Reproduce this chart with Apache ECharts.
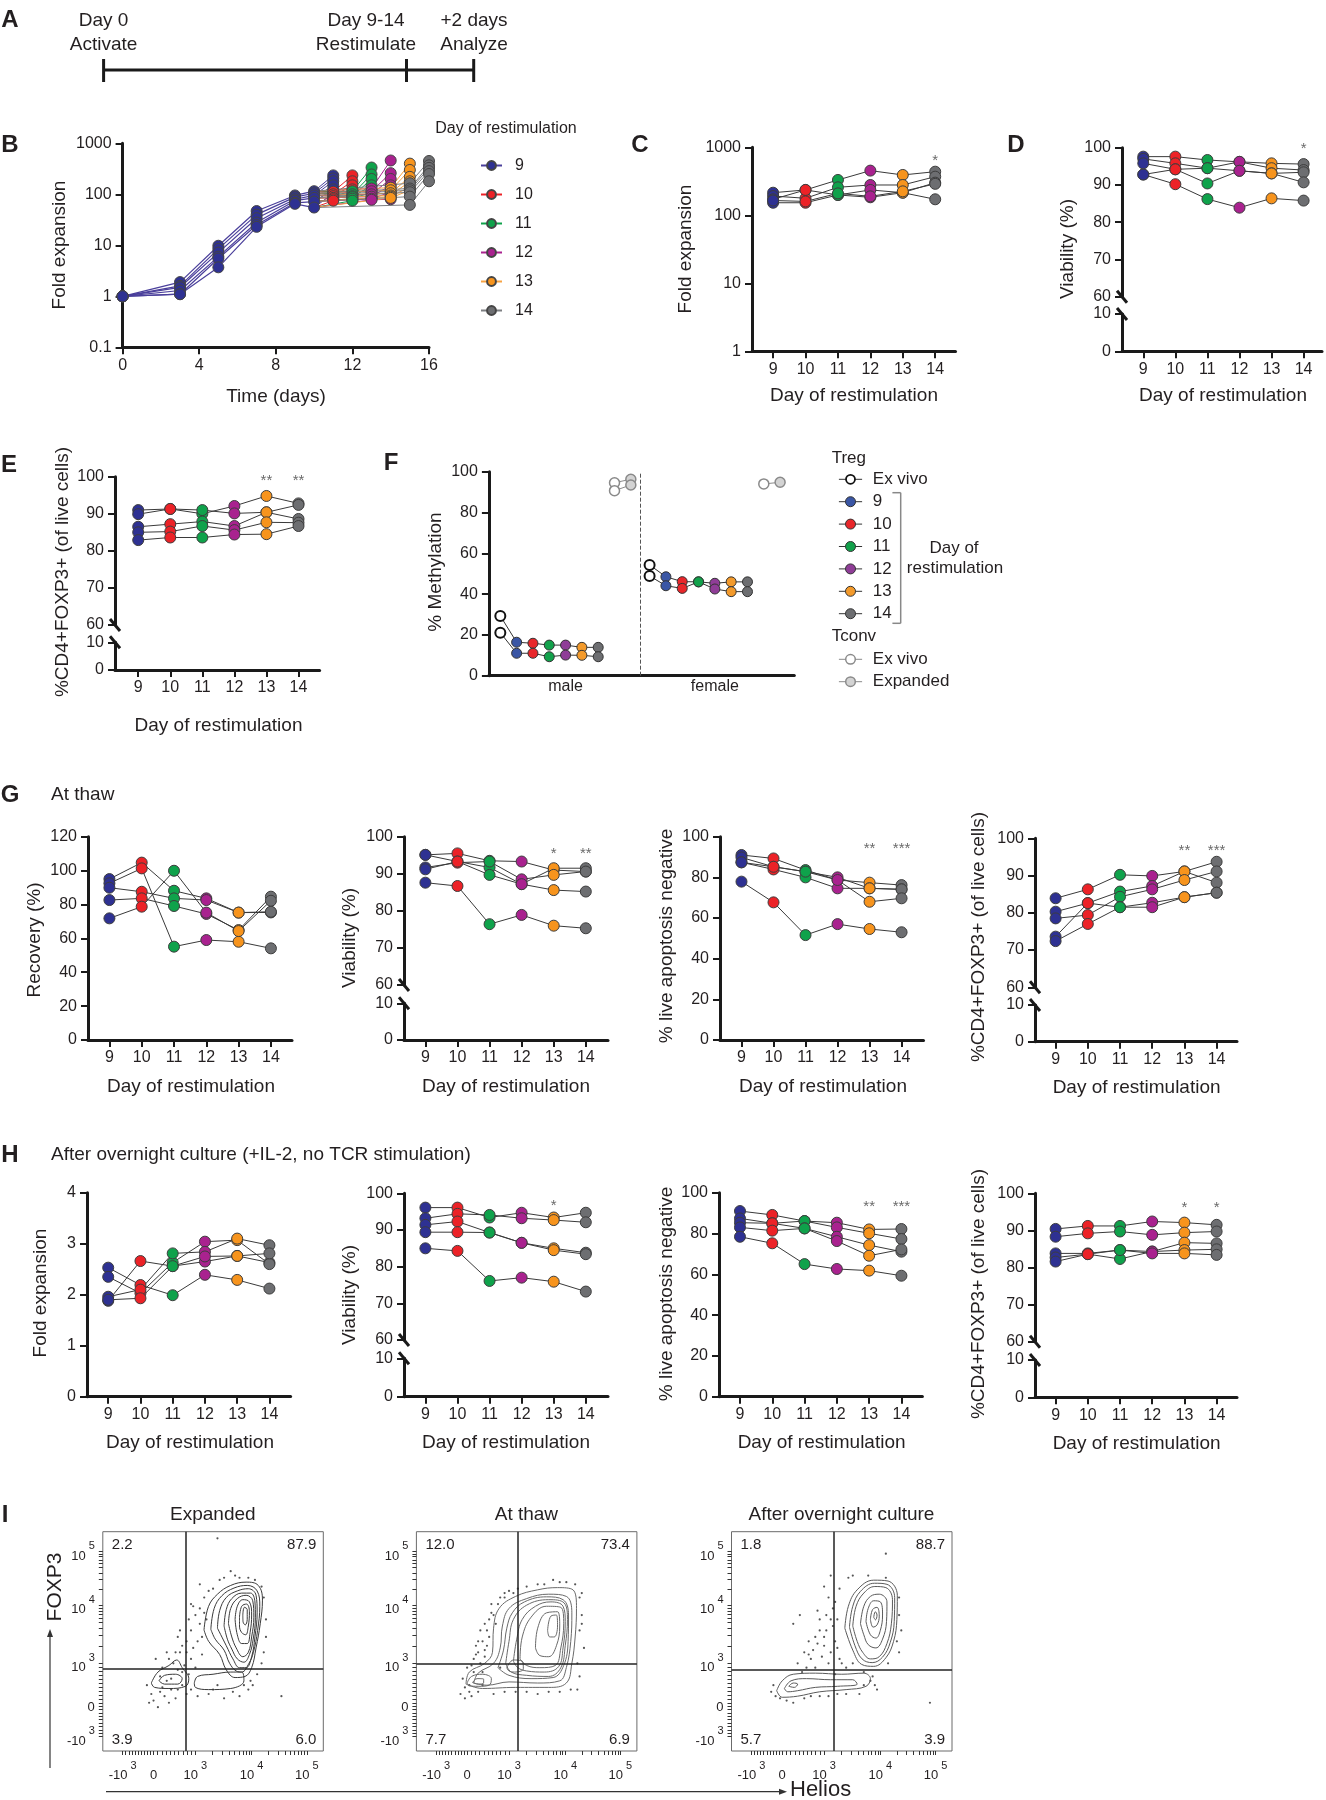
<!DOCTYPE html>
<html><head><meta charset="utf-8">
<script src="https://cdn.jsdelivr.net/npm/echarts@6/dist/echarts.min.js"></script>
<style>html,body{margin:0;padding:0;background:#fff}#c{width:1326px;height:1800px}</style>
</head><body><div id="c"></div>
<script>
// ================= DATA =================
const DAYS = [9, 10, 11, 12, 13, 14];
const DAY_COLORS = ['#2E3192', '#EC2227', '#0FA24B', '#A9228F', '#F7941D', '#6D6E71'];
const F_COLORS = ['#3A56A5', '#E8262A', '#12A14B', '#8F3D97', '#F39A2B', '#6D6E71'];

// Panel B: fold expansion over time
const B_baseDays = [0, 3, 5, 7, 9, 10];
const B_base = [
  [1, 1.9, 9.8, 47, 95, 115],
  [1, 1.6, 8.5, 40, 88, 105],
  [1, 1.5, 7.2, 34, 80, 95],
  [1, 1.3, 6.0, 28, 75, 85],
  [1, 1.1, 5.5, 25, 68, 72],
  [1, 1.1, 3.7, 23, 65, 55]];
const B_restimDays = [9, 10, 11, 12, 13, 14];
const B_afterDays = [[11], [11, 12], [12, 13], [13, 14], [14, 15], [15, 16]];
const B_after = [
  [[235], [205], [180], [150], [125], [105]],
  [[112, 235], [100, 180], [92, 150], [85, 125], [80, 100], [75, 80]],
  [[115, 335], [100, 245], [92, 200], [88, 150], [82, 110], [75, 85]],
  [[130, 460], [115, 260], [100, 200], [90, 150], [82, 110], [78, 80]],
  [[135, 400], [120, 300], [105, 220], [95, 180], [90, 140], [85, 120]],
  [[165, 450], [130, 370], [120, 330], [110, 285], [90, 250], [62, 180]]];
const B_lineColors = ['#4A3F9B', '#EC2227', '#0FA24B', '#A9228F', '#F7A343', '#7D7F82'];

// Panels C-E (rows = donors, columns = day of restimulation 9..14)
const C_fold = [
  [215, 236, 331, 454, 392, 438],
  [192, 178, 258, 279, 279, 370],
  [172, 236, 199, 236, 215, 302],
  [153, 153, 199, 184, 215, 172],
  [165, 160, 210, 190, 225, 290]];
const C_sig = [[14, '*']];
const D_viab = [
  [97.6, 97.6, 96.7, 96.2, 95.8, 95.6],
  [97.0, 95.8, 94.5, 96.2, 94.5, 94.0],
  [95.8, 94.2, 94.5, 93.8, 93.1, 93.4],
  [92.8, 94.2, 90.4, 93.8, 93.1, 90.7],
  [92.8, 90.2, 86.2, 83.9, 86.4, 85.8]];
const D_sig = [[14, '*']];
const E_foxp3 = [
  [91.0, 91.3, 90.0, 92.1, 94.8, 92.8],
  [89.9, 91.3, 91.0, 90.1, 90.4, 92.4],
  [86.5, 87.2, 87.9, 86.7, 90.4, 88.6],
  [85.0, 85.2, 86.7, 85.6, 87.7, 87.6],
  [82.9, 83.6, 83.6, 84.4, 84.5, 86.7]];
const E_sig = [[13, '**'], [14, '**']];

// Panel F: % methylation
const F_sexes = ['male', 'female'];
const F_tregMale = [[29.3, 16.4, 15.9, 15.0, 15.0, 13.9, 13.9], [21.1, 11.0, 11.0, 9.3, 10.1, 10.0, 9.3]];
const F_tregFemale = [[54.3, 48.5, 46.1, 46.0, 45.3, 46.0, 46.0], [48.9, 44.1, 42.8, 46.0, 42.5, 41.2, 41.2]];
const F_tconvMale = [[94.6, 96.3], [90.7, 93.5]];
const F_tconvFemale = [[94.0, 94.8]];
const F_tregLegend = ['Ex vivo', '9', '10', '11', '12', '13', '14'];
const F_tconvLegend = ['Ex vivo', 'Expanded'];

// Panel G: at thaw
const G_recovery = [
  [95.0, 104.7, 88.1, 83.6, 75.2, 75.3],
  [92.5, 101.3, 55.1, 59.0, 58.0, 54.1],
  [89.9, 87.5, 83.6, 82.6, 75.2, 75.7],
  [82.6, 83.6, 79.1, 74.4, 64.9, 84.6],
  [71.8, 78.7, 99.9, 75.2, 64.3, 82.2]];
const G_viab = [
  [95.1, 95.5, 93.5, 93.3, 91.0, 90.6],
  [95.1, 93.3, 91.7, 87.2, 91.5, 91.5],
  [91.7, 93.0, 93.3, 88.5, 89.7, 90.6],
  [91.2, 93.3, 89.7, 87.2, 85.6, 85.2],
  [87.6, 86.7, 76.4, 78.9, 76.0, 75.3]];
const G_viab_sig = [[13, '*'], [14, '**']];
const G_apop = [
  [91.0, 89.3, 83.6, 78.7, 77.4, 76.2],
  [89.8, 85.2, 82.8, 80.0, 74.6, 74.1],
  [87.4, 83.9, 80.0, 74.6, 74.6, 74.1],
  [87.4, 85.2, 82.8, 78.7, 68.0, 69.7],
  [77.9, 67.7, 51.6, 57.0, 54.6, 53.0]];
const G_apop_sig = [[13, '**'], [14, '***']];
const G_foxp3 = [
  [83.9, 86.3, 90.2, 89.9, 91.1, 88.1],
  [80.3, 82.6, 85.7, 87.2, 91.1, 93.7],
  [78.5, 79.4, 84.3, 86.3, 88.8, 91.1],
  [73.6, 82.6, 81.5, 82.7, 84.2, 85.4],
  [72.4, 77.0, 81.5, 81.5, 84.2, 85.4]];
const G_foxp3_sig = [[13, '**'], [14, '***']];

// Panel H: after overnight culture
const H_fold = [
  [1.88, 2.66, 2.56, 2.65, 2.76, 2.63],
  [2.53, 2.19, 1.99, 2.39, 2.29, 2.12],
  [2.35, 2.03, 2.63, 3.04, 3.07, 2.60],
  [1.96, 2.10, 2.81, 2.84, 3.10, 2.97],
  [1.90, 1.93, 2.56, 2.75, 2.76, 2.81]];
const H_viab = [
  [96.1, 96.1, 93.4, 94.7, 93.4, 94.7],
  [93.2, 94.4, 94.1, 93.2, 92.7, 92.1],
  [91.4, 92.3, 89.3, 86.5, 85.0, 83.8],
  [89.4, 89.4, 89.3, 86.5, 84.5, 83.4],
  [85.0, 84.3, 76.1, 77.0, 75.9, 73.2]];
const H_viab_sig = [[13, '*']];
const H_apop = [
  [91.0, 89.1, 86.1, 85.3, 82.0, 82.2],
  [87.4, 85.0, 86.1, 83.0, 80.1, 77.3],
  [85.3, 85.0, 82.5, 78.4, 74.3, 71.1],
  [83.0, 81.4, 82.5, 76.3, 69.1, 72.2],
  [78.4, 75.2, 65.0, 62.6, 61.8, 59.3]];
const H_apop_sig = [[13, '**'], [14, '***']];
const H_foxp3 = [
  [90.4, 91.2, 91.2, 92.4, 92.1, 91.5],
  [88.3, 89.2, 89.7, 88.8, 89.4, 89.7],
  [83.8, 83.8, 84.7, 84.3, 86.7, 86.5],
  [82.7, 83.6, 82.3, 84.3, 84.7, 84.9],
  [81.6, 83.6, 84.7, 83.8, 83.8, 83.4]];
const H_foxp3_sig = [[13, '*'], [14, '*']];

// Panel I: flow cytometry (channel units 0-100 on both axes)
const I_titles = ['Expanded', 'At thaw', 'After overnight culture'];
const I_quadrants = [['2.2', '87.9', '3.9', '6.0'], ['12.0', '73.4', '7.7', '6.9'], ['1.8', '88.7', '5.7', '3.9']];
const I_gates = [[37.6, 37.3], [46.1, 39.7], [46.2, 36.9]];
const I_xTickPos = [9, 23, 42, 67.5, 92.5];
const I_yTickPos = [6.5, 22, 40, 66.5, 91];
const I_tickLabels = ['-10|3', '0', '10|3', '10|4', '10|5'];
const I1_rings = [
  [[45.9,55.2],[47.9,65.8],[52,71.5],[58,75.5],[65,77],[70.5,75.5],[72.4,68.8],[71.4,58],[69.5,47],[67.5,38],[64.5,34],[60,33.5],[56,37],[53,44],[48,50]],
  [[49,55.5],[50.5,65],[54,70.8],[59.5,74.3],[65.5,75.5],[70,73],[71.2,66],[70.2,55],[68.3,45],[66.3,40],[63,36],[60.5,36.5],[57.5,40],[55,46],[51,51]],
  [[52,56],[53,64],[56,70],[61,73],[66,74],[69.5,71],[70,63],[69,52],[67.5,43],[65,38],[62,38],[59,42],[56,48]],
  [[55,57],[56,64.5],[58.5,69.5],[63,72],[67,72],[69,68],[69.2,61],[68.2,51],[66.5,44],[64,40.5],[61,42],[58.5,46.5],[56.5,51]],
  [[57,58],[58,65],[61,69.5],[65,71],[68,68.5],[68.5,61],[67.5,52],[66,45],[63.5,43],[60.5,47],[58.5,52]],
  [[60,60],[61,66],[63.5,69],[66.5,68],[67.5,62],[66.8,54],[65.5,49],[63,49],[61,53]],
  [[62,61],[63,66],[65.2,67],[66.5,63.5],[66,57],[64.8,53],[63,54],[62,57]],
  [[63.5,62],[64.2,65.5],[65.5,64.5],[65.5,60],[64.6,57.5],[63.6,59]],
  [[22,31],[25,36],[30,39],[33.5,41.5],[36,38],[39,33],[37.5,29.5],[30,28.5],[23.5,29]],
  [[25.5,32],[28,34.5],[33,35],[36,33],[34,30.5],[28,30.5]],
  [[41.5,31],[43,34],[50,35],[58,36],[63,36],[64,32],[58,28.5],[48,28],[42,29]]];
const I2_rings = [
  [[22.5,30.5],[24,36],[31,40],[34.5,45],[35,56],[37.5,65],[45,70.5],[55,73.5],[64,74.5],[71,73.5],[72.6,65],[72,52],[70.5,40],[68,31],[60,29],[45,29],[30,28.5]],
  [[26,31],[28,35.5],[35,40],[38,47],[39,57],[42,65],[50,69.5],[60,71.5],[68,70.5],[70.5,63],[70,50],[68,38],[65,32],[55,31],[42,31.5],[32,30]],
  [[37,38],[39.5,46],[41,56],[43.5,63],[49,68],[59,70.3],[66.5,69],[69,62],[68.8,50],[66.8,39],[62,33.5],[52,33],[42,34.5]],
  [[40.5,40],[42,50],[44,60],[50,66.5],[60,69],[67,67.5],[68.5,60],[67.5,48],[65.5,38],[60,34],[50,34.5],[43,36]],
  [[44,41],[45.5,51],[48,60],[54,66],[61,68],[66.5,66],[67.5,59],[66.5,47],[64.5,38.5],[58,36],[50,36.5],[46,38]],
  [[47,42],[48,52],[52,61],[59,66],[65.5,65.5],[66.8,58],[65.5,47],[63,39],[56,38],[50,39]],
  [[54,47],[55,56],[59,63],[64,63.5],[65,57],[63.5,48],[60,43],[56,43.5]],
  [[59.5,55],[61,61.5],[63.5,62],[64,57],[62.5,52],[60.5,52]],
  [[23,31],[25,34],[30,35],[34,33],[33,30],[28,29.5],[24,29.8]],
  [[25.5,31.2],[27.5,33],[30.5,32.8],[30.5,31],[28,30.5]],
  [[41,38],[44,41.5],[48,41],[48.5,37.5],[44.5,36],[42,36.5]]];
const I3_rings = [
  [[51.4,56],[53,66],[57,73.5],[64.5,77.9],[71,77.5],[75.2,71],[75,60],[73.5,50],[70,42.5],[64.5,38.6],[59,39.5],[55,46]],
  [[53.5,56.5],[55,66],[58.5,72.8],[64.8,76.5],[70.5,76],[74,70],[73.8,59],[72,49.5],[68.5,42.8],[63.8,40.3],[59.2,42],[56,48]],
  [[55,57],[56.5,66],[60,72],[65,75],[70,74.5],[73,69],[72.5,58],[70.5,49],[67,43],[63,42],[59.5,45],[57,50]],
  [[58.5,58],[60,66],[63,70.5],[67,71.5],[70.5,68],[70.3,59],[68.5,51],[65.5,47],[62,48.5],[60,53]],
  [[61,59],[62,65],[64.5,68.5],[67.5,68],[68.5,62],[67.5,55],[65.5,51.5],[63,53]],
  [[63,60],[64,64.5],[66,65.5],[67,61.5],[66,57.5],[64.2,56.5]],
  [[64.5,61],[65.2,63.5],[66,62],[65.3,59.8]],
  [[20.5,27.5],[23,32],[28,35],[38,35.5],[50,35],[60,35.5],[63,33],[61,29.5],[52,28],[40,27],[30,25],[23,24.5]],
  [[24,28.5],[27,32],[34,33],[45,32.5],[55,32.5],[57,30.5],[48,29.5],[38,29],[30,27.5],[25.5,27]],
  [[26,29.5],[28,31],[30,30.5],[28.5,29]]];
const I1_dots = [[25,20],[28,25],[22,26],[30,22],[33,24],[35,45],[38,50],[40,55],[36,48],[41,47],[44,58],[42,62],[46,70],[48,73],[50,74],[38,45],[32,40],[30,42],[27,38],[45,52],[55,79],[60,80],[66,79],[72,75],[74,60],[73,45],[70,35],[66,28],[62,25],[55,24],[48,26],[43,25],[38,26],[26,34],[20,30],[24,42],[34,52],[39,60],[44,65],[58,82],[52,30],[64,30],[36,30],[31,28],[67,32],[29,45],[42,38],[40,42],[37,39],[34,37],[81,25],[52,97],[23,23],[27,29],[33,45],[35,55],[41,66],[47,60],[39,35],[45,44],[21,22],[26,27],[31,33],[36,36],[43,50],[46,63],[40,67],[44,76],[53,78],[62,79],[69,78],[73,70],[74,52],[72,40],[68,30],[59,27],[50,28],[40,28],[34,28],[29,32]];
const I2_dots = [[20,26],[22,24],[25,25],[21,33],[23,38],[26,42],[28,45],[30,50],[32,55],[33,60],[29,40],[31,46],[27,48],[34,63],[37,67],[40,70],[46,74],[55,76],[65,77],[72,76],[74,70],[74,55],[73,40],[70,28],[65,27],[55,26],[45,27],[35,26],[28,27],[24,30],[30,36],[33,52],[36,58],[26,36],[31,43],[24,27],[40,72],[62,78],[73,28],[38,38],[29,55],[32,48],[27,44],[35,62],[75,62],[76,47],[42,73],[50,75],[22,29],[25,39],[28,50],[31,58],[34,67],[38,70],[44,72],[58,76],[68,77],[75,72],[75,58],[74,34],[60,27],[50,27],[40,27],[30,30]];
const I3_dots = [[30,40],[33,45],[35,50],[38,52],[40,55],[42,48],[45,45],[47,50],[48,60],[46,65],[44,70],[42,75],[49,42],[36,42],[32,36],[38,38],[44,40],[50,40],[52,38],[55,40],[60,36],[63,32],[65,30],[66,28],[58,26],[48,26],[40,25],[33,24],[25,23],[22,24],[18,27],[45,80],[53,79],[76,70],[77,55],[76,45],[40,60],[43,55],[47,35],[31,62],[28,58],[90,22],[70,90],[37,46],[41,43],[46,57],[34,38],[39,64],[43,62],[48,47],[35,44],[39,49],[42,52],[45,60],[47,68],[49,74],[55,80],[62,80],[70,79],[76,62],[75,50],[71,40],[64,34],[60,30],[52,26],[44,25],[36,25],[28,22],[20,25],[19,30]];

// ================= BUILD =================
const FONT = "'Liberation Sans', Arial, Helvetica, sans-serif";
const INK = '#231f20';
const AXC = '#1a1a1a';
const GR = [];
const option = { animation: false, backgroundColor: '#fff', textStyle: { fontFamily: FONT },
  grid: [], xAxis: [], yAxis: [], series: [], graphic: { elements: GR } };

const AXL = { show: true, onZero: false, lineStyle: { color: AXC, width: 3 } };
const TK = { show: true, inside: false, length: 7, lineStyle: { color: AXC, width: 2 } };
const LB = { color: INK, fontSize: 16, fontFamily: FONT };
const plainNum = v => String(v);

function addGrid(l, t, w, h, xa, ya, extra) {
  const i = option.grid.length;
  option.grid.push(Object.assign({ left: l, top: t, width: w, height: h, containLabel: false }, extra || {}));
  option.xAxis.push(Object.assign({ gridIndex: i, splitLine: { show: false } }, xa));
  option.yAxis.push(Object.assign({ gridIndex: i, splitLine: { show: false } }, ya));
  return i;
}
function T(x, y, text, size, o) {
  o = o || {};
  GR.push({ type: 'text', x: x, y: y, rotation: o.rot || 0, silent: true, z: 50,
    style: { text: text, fill: o.color || INK, font: (o.bold ? 'bold ' : '') + size + 'px ' + FONT,
      align: o.align || 'center', verticalAlign: o.va || 'middle',
      textAlign: o.align || 'center', textVerticalAlign: o.va || 'middle' } });
}
function L(x1, y1, x2, y2, w, c) {
  GR.push({ type: 'line', silent: true, z: 50, shape: { x1: x1, y1: y1, x2: x2, y2: y2 }, style: { stroke: c || AXC, lineWidth: w || 1 } });
}
function C(cx, cy, r, fill, stroke, lw) {
  GR.push({ type: 'circle', silent: true, z: 51, shape: { cx: cx, cy: cy, r: r }, style: { fill: fill, stroke: stroke, lineWidth: lw || 1 } });
}
const ROT = Math.PI / 2;

// ---- Panel letters ----
T(10, 20, 'A', 24, { bold: true }); T(10, 145, 'B', 24, { bold: true });
T(640, 145, 'C', 24, { bold: true }); T(1016, 145, 'D', 24, { bold: true });
T(9, 465, 'E', 24, { bold: true }); T(391, 463, 'F', 24, { bold: true });
T(10, 795, 'G', 24, { bold: true }); T(10, 1155, 'H', 24, { bold: true });
T(5, 1515, 'I', 24, { bold: true });
T(51, 795, 'At thaw', 19, { align: 'left' });
T(51, 1155, 'After overnight culture (+IL-2, no TCR stimulation)', 19, { align: 'left' });

// ---- Panel A: timeline diagram ----
L(103.6, 70, 473.7, 70, 3); L(103.6, 59, 103.6, 82, 3); L(406.5, 59, 406.5, 82, 3); L(473.7, 59, 473.7, 82, 3);
T(103.6, 21, 'Day 0', 19); T(103.6, 45, 'Activate', 19);
T(366, 21, 'Day 9-14', 19); T(366, 45, 'Restimulate', 19);
T(474, 21, '+2 days', 19); T(474, 45, 'Analyze', 19);

// ---- Panel B ----
const gB = addGrid(122.6, 143.3, 306.4, 204,
  { type: 'value', min: 0, max: 16, interval: 4, axisLine: AXL, axisTick: TK, axisLabel: Object.assign({ margin: 10 }, LB) },
  { type: 'log', logBase: 10, min: 0.1, max: 1000, axisLine: AXL, axisTick: TK, axisLabel: Object.assign({ margin: 11, formatter: plainNum }, LB), minorTick: { show: false } });
B_restimDays.forEach((g, j) => {
  B_base.forEach((row, i) => {
    const pts = [{ value: [B_baseDays[B_baseDays.length - 1], row[row.length - 1]], symbol: 'none' }];
    B_afterDays[j].forEach((d, k) => pts.push([d, B_after[j][i][k]]));
    option.series.push({ type: 'line', name: String(g), xAxisIndex: gB, yAxisIndex: gB, clip: false, silent: true,
      symbol: 'circle', symbolSize: 11, lineStyle: { color: B_lineColors[j], width: 1 },
      itemStyle: { color: DAY_COLORS[j], borderColor: '#444', borderWidth: 1 }, data: pts });
  });
});
B_base.forEach(row => option.series.push({ type: 'line', name: 'base', xAxisIndex: gB, yAxisIndex: gB, clip: false, silent: true,
  symbol: 'circle', symbolSize: 11, lineStyle: { color: B_lineColors[0], width: 1.2 },
  itemStyle: { color: DAY_COLORS[0], borderColor: '#444', borderWidth: 1 },
  data: row.map((v, k) => [B_baseDays[k], v]) }));
option.legend = { show: true, data: B_restimDays.map(String), orient: 'vertical', left: 475, top: 152.5,
  itemWidth: 21, itemHeight: 11, itemGap: 13, selectedMode: false,
  textStyle: { fontSize: 16, fontFamily: FONT, color: INK, padding: [0, 0, 0, 8] } };
T(506, 129, 'Day of restimulation', 16);
T(276, 397, 'Time (days)', 19);
T(59.3, 245, 'Fold expansion', 19, { rot: ROT });

// ---- Day-of-restimulation panels ----
function dayX(p, show) {
  const a = { type: 'value', min: p.xmin, max: p.xmax };
  if (!show) return Object.assign(a, { show: false });
  return Object.assign(a, { axisLine: AXL, axisTick: Object.assign({ customValues: DAYS }, TK),
    axisLabel: Object.assign({ customValues: DAYS, margin: 10 }, LB) });
}
function valY(min, max, interval, log) {
  if (log) return { type: 'log', logBase: 10, min: min, max: max, axisLine: AXL, axisTick: TK, axisLabel: Object.assign({ margin: 11, formatter: plainNum }, LB), minorTick: { show: false } };
  return { type: 'value', min: min, max: max, interval: interval, axisLine: AXL, axisTick: TK, axisLabel: Object.assign({ margin: 11 }, LB) };
}
function slash(x, y) { L(x - 5, y - 6, x + 5, y + 6, 3); }
const PANELS = [
  { data: C_fold, sig: C_sig, sigY: 640, log: true, ymin: 1, ymax: 1000, left: 752, width: 203.5, top: 147.3, height: 204, xmin: 8.349, xmax: 14.626, xt: [854, 396], yt: [686, 249, 'Fold expansion'] },
  { data: D_viab, sig: D_sig, sigY: 99.6, brk: true, left: 1122, width: 200, top: 147.7, height: 149, ltop: 314, lheight: 37.3, xmin: 8.336, xmax: 14.574, xt: [1223, 396], yt: [1068, 249, 'Viability (%)'] },
  { data: E_foxp3, sig: E_sig, sigY: 98.9, brk: true, left: 115, width: 204.6, top: 476.7, height: 148.3, ltop: 642.3, lheight: 27.7, xmin: 8.276, xmax: 14.658, xt: [218.5, 726], yt: [62.5, 572, '%CD4+FOXP3+ (of live cells)'] },
  { data: G_recovery, sig: [], ymin: 0, ymax: 120, interval: 20, left: 88, width: 204, top: 836.7, height: 203.3, xmin: 8.337, xmax: 14.653, xt: [191, 1087], yt: [34.7, 940, 'Recovery (%)'] },
  { data: G_viab, sig: G_viab_sig, sigY: 95.5, brk: true, left: 404, width: 204, top: 836.7, height: 148.3, ltop: 1003.3, lheight: 36.7, xmin: 8.333, xmax: 14.692, xt: [506, 1087], yt: [350, 938, 'Viability (%)'] },
  { data: G_apop, sig: G_apop_sig, sigY: 94, ymin: 0, ymax: 100, interval: 20, left: 720, width: 203.5, top: 836.7, height: 203.3, xmin: 8.329, xmax: 14.685, xt: [823, 1087], yt: [667, 936, '% live apoptosis negative'] },
  { data: G_foxp3, sig: G_foxp3_sig, sigY: 96.7, brk: true, left: 1035, width: 202, top: 838.3, height: 149, ltop: 1005, lheight: 36.7, xmin: 8.36, xmax: 14.633, xt: [1136.6, 1088], yt: [979, 937, '%CD4+FOXP3+ (of live cells)'] },
  { data: H_fold, sig: [], ymin: 0, ymax: 4, interval: 1, left: 87, width: 203.6, top: 1192.7, height: 204, xmin: 8.342, xmax: 14.657, xt: [190, 1443], yt: [40.8, 1293, 'Fold expansion'] },
  { data: H_viab, sig: H_viab_sig, sigY: 96.6, brk: true, left: 404, width: 204, top: 1193.3, height: 146.7, ltop: 1358.3, lheight: 38.4, xmin: 8.333, xmax: 14.692, xt: [506, 1443], yt: [350, 1295, 'Viability (%)'] },
  { data: H_apop, sig: H_apop_sig, sigY: 93.3, ymin: 0, ymax: 100, interval: 20, left: 719, width: 203.4, top: 1192.7, height: 204, xmin: 8.35, xmax: 14.65, xt: [821.6, 1443], yt: [666.3, 1294, '% live apoptosis negative'] },
  { data: H_foxp3, sig: H_foxp3_sig, sigY: 96.2, brk: true, left: 1035, width: 202, top: 1193.3, height: 148.4, ltop: 1360, lheight: 37.3, xmin: 8.36, xmax: 14.633, xt: [1136.6, 1444], yt: [979, 1294, '%CD4+FOXP3+ (of live cells)'] }
];
PANELS.forEach(p => {
  let gi;
  if (!p.brk) {
    gi = addGrid(p.left, p.top, p.width, p.height, dayX(p, true), valY(p.ymin, p.ymax, p.interval, p.log));
  } else {
    gi = addGrid(p.left, p.top, p.width, p.height, dayX(p, false), valY(60, 100, 10));
    addGrid(p.left, p.ltop, p.width, p.lheight, dayX(p, true), valY(0, 10, 10));
    slash(p.left, p.top + p.height); slash(p.left, p.ltop);
  }
  p.data.forEach(row => option.series.push({ type: 'line', xAxisIndex: gi, yAxisIndex: gi, clip: false, silent: true,
    symbol: 'circle', symbolSize: 11, lineStyle: { color: '#3a3a3a', width: 1 },
    itemStyle: { borderColor: '#3d3d3d', borderWidth: 1 },
    data: row.map((v, k) => ({ value: [DAYS[k], v], itemStyle: { color: DAY_COLORS[k] } })) }));
  if (p.sig.length) option.series.push({ type: 'scatter', xAxisIndex: gi, yAxisIndex: gi, clip: false, silent: true,
    symbolSize: 1, itemStyle: { color: 'rgba(0,0,0,0)' },
    data: p.sig.map(s => ({ value: [s[0], p.sigY], label: { show: true, position: 'inside', formatter: s[1], color: '#444', fontSize: 15, fontFamily: FONT } })) });
  T(p.xt[0], p.xt[1], 'Day of restimulation', 19);
  T(p.yt[0], p.yt[1], p.yt[2], 19, { rot: ROT });
});

// ---- Panel F ----
const F_offsets = [0, 9.15];
const gF = addGrid(488.9, 471.7, 305.4, 204,
  { type: 'value', min: -0.7, max: 18.02, axisLine: AXL, axisTick: { show: false },
    axisLabel: Object.assign({ customValues: F_offsets.map(o => o + 4), margin: 3,
      formatter: v => F_sexes[F_offsets.map(o => o + 4).findIndex(q => Math.abs(q - v) < 1e-6)] || '' }, LB) },
  valY(0, 100, 20));
function fTreg(rows, off) {
  rows.forEach(row => option.series.push({ type: 'line', xAxisIndex: gF, yAxisIndex: gF, clip: false, silent: true,
    symbol: 'circle', symbolSize: 10, lineStyle: { color: '#333', width: 1 }, itemStyle: { borderColor: '#333', borderWidth: 1 },
    data: row.map((v, k) => ({ value: [off + k, v], itemStyle: k === 0 ? { color: '#fff', borderColor: '#111', borderWidth: 2 } : { color: F_COLORS[k - 1] } })) }));
}
function fTconv(rows, off) {
  rows.forEach(row => option.series.push({ type: 'line', xAxisIndex: gF, yAxisIndex: gF, clip: false, silent: true,
    symbol: 'circle', symbolSize: 10, lineStyle: { color: '#8a8a8a', width: 1 }, itemStyle: { borderColor: '#8a8a8a', borderWidth: 1.5 },
    data: row.map((v, k) => ({ value: [off + 7 + k, v], itemStyle: { color: k === 0 ? '#fff' : '#d3d3d3' } })) }));
}
fTreg(F_tregMale, F_offsets[0]); fTreg(F_tregFemale, F_offsets[1]);
fTconv(F_tconvMale, F_offsets[0]); fTconv(F_tconvFemale, F_offsets[1]);
option.series.push({ type: 'line', xAxisIndex: gF, yAxisIndex: gF, data: [], silent: true,
  markLine: { silent: true, symbol: ['none', 'none'], label: { show: false }, lineStyle: { type: 'dashed', color: '#555', width: 1 },
    data: [{ xAxis: F_offsets[1] - 0.6 }] } });
T(435.7, 572, '% Methylation', 19, { rot: ROT });
// F legend
T(831.7, 458.3, 'Treg', 17, { align: 'left' });
F_tregLegend.forEach((name, k) => {
  const y = 479.3 + 22.4 * k;
  L(838.9, y, 862.1, y, 1, '#333');
  if (k === 0) C(850.5, y, 4.5, '#fff', '#111', 1.8); else C(850.5, y, 5, F_COLORS[k - 1], '#333', 1);
  T(872.8, y, name, 17, { align: 'left' });
});
T(831.7, 636.7, 'Tconv', 17, { align: 'left' });
F_tconvLegend.forEach((name, k) => {
  const y = 659.3 + 22.4 * k;
  L(838.9, y, 862.1, y, 1, '#8a8a8a');
  C(850.5, y, 4.8, k === 0 ? '#fff' : '#d3d3d3', '#8a8a8a', 1.5);
  T(872.8, y, name, 17, { align: 'left' });
});
L(892.4, 492.7, 900.7, 492.7, 1.5, '#888'); L(900.7, 492.7, 900.7, 623.3, 1.5, '#888'); L(892.4, 623.3, 900.7, 623.3, 1.5, '#888');
T(954, 548, 'Day of', 17); T(955, 568, 'restimulation', 17);

// ---- Panel I: flow plots ----
function logicleTicks(pos) {
  const t = pos.slice();
  const [nk, z, k3, k4, k5] = pos;
  [-900, -800, -700, -600, -500, -400, -300, -200, -100, 100, 200, 300, 400, 500, 600, 700, 800, 900]
    .forEach(v => t.push(v < 0 ? z + (z - nk) * v / 1000 : z + (k3 - z) * v / 1000));
  [[k3, k4], [k4, k5]].forEach(([a, b]) => { for (let m = 2; m <= 9; m++) t.push(a + (b - a) * Math.log10(m)); });
  return t;
}
function flowLabel(pos, margin) {
  return { show: true, customValues: pos, margin: margin, color: INK,
    formatter: v => { const i = pos.findIndex(q => Math.abs(q - v) < 1e-6); if (i < 0) return ''; const parts = I_tickLabels[i].split('|'); return parts[1] ? '{b|' + parts[0] + '}{s|' + parts[1] + '}' : '{b|' + parts[0] + '}'; },
    rich: { b: { fontSize: 13, fontFamily: FONT, color: INK, lineHeight: 22, verticalAlign: 'bottom' },
      s: { fontSize: 11, fontFamily: FONT, color: INK, lineHeight: 22, verticalAlign: 'top', padding: [0, 0, 0, 3] } } };
}
const I_left = [102.8, 416.4, 731.5];
const I_rings = [I1_rings, I2_rings, I3_rings];
const I_dots = [I1_dots, I2_dots, I3_dots];
const I_ringColor = ['#3a3a3a', '#6a6a6a', '#5a5a5a'];
I_left.forEach((left, k) => {
  const TKF = { lineStyle: { color: '#333', width: 1 }, length: 4, inside: false, show: true };
  const gi = addGrid(left, 1531.7, 220.5, 219.3,
    { type: 'value', min: 0, max: 100, axisLine: { show: false }, axisTick: Object.assign({ customValues: logicleTicks(I_xTickPos) }, TKF), axisLabel: flowLabel(I_xTickPos, 9) },
    { type: 'value', min: 0, max: 100, axisLine: { show: false }, axisTick: Object.assign({ customValues: logicleTicks(I_yTickPos) }, TKF), axisLabel: flowLabel(I_yTickPos, 8) },
    { show: true, borderColor: '#6b6b6b', borderWidth: 1, backgroundColor: 'rgba(0,0,0,0)' });
  I_rings[k].forEach(r => option.series.push({ type: 'line', xAxisIndex: gi, yAxisIndex: gi, silent: true, clip: true,
    symbol: 'none', smooth: 0.4, lineStyle: { color: I_ringColor[k], width: 1 }, data: r.concat([r[0]]) }));
  option.series.push({ type: 'scatter', xAxisIndex: gi, yAxisIndex: gi, silent: true, symbolSize: 2.2,
    itemStyle: { color: '#2a2a2a' }, data: I_dots[k],
    markLine: { silent: true, symbol: ['none', 'none'], label: { show: false }, lineStyle: { type: 'solid', color: '#222', width: 1.5 },
      data: [{ xAxis: I_gates[k][0] }, { yAxis: I_gates[k][1] }] } });
  T(left + 110, 1515, I_titles[k], 19);
  const q = I_quadrants[k];
  T(left + 9, 1545, q[0], 15, { align: 'left' }); T(left + 213.5, 1545, q[1], 15, { align: 'right' });
  T(left + 9, 1740, q[2], 15, { align: 'left' }); T(left + 213.5, 1740, q[3], 15, { align: 'right' });
});
T(55, 1587, 'FOXP3', 21, { rot: ROT });
L(50, 1768, 50, 1636, 1.2, '#333');
GR.push({ type: 'polygon', silent: true, z: 50, shape: { points: [[47, 1637], [53, 1637], [50, 1629]] }, style: { fill: '#333' } });
L(106, 1791.7, 780, 1791.7, 1.2, '#333');
GR.push({ type: 'polygon', silent: true, z: 50, shape: { points: [[779, 1788.7], [779, 1794.7], [787, 1791.7]] }, style: { fill: '#333' } });
T(790, 1790, 'Helios', 22, { align: 'left' });

const chart = echarts.init(document.getElementById('c'), null, { renderer: 'canvas' });
chart.setOption(option);
</script>
</body></html>
